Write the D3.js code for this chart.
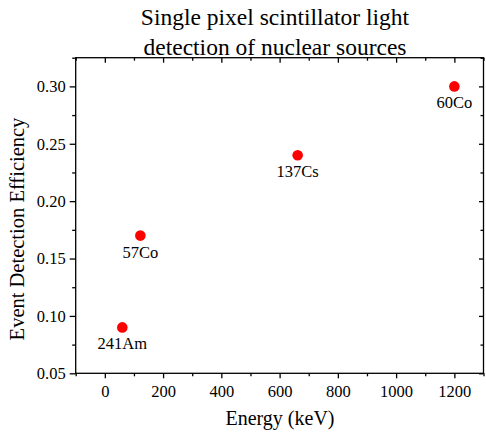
<!DOCTYPE html>
<html>
<head>
<meta charset="utf-8">
<script src="https://cdn.jsdelivr.net/npm/d3@7"></script>
<style>
  html, body { margin: 0; padding: 0; background: #fff; }
  svg, svg text { font-family: "Liberation Serif", "Times New Roman", serif; }
  svg { display: block; }
</style>
</head>
<body>
<svg id="chart" width="486" height="434"></svg>
<script>
// ---- data ----
const sources = ["241Am", "57Co", "137Cs", "60Co"];
const energies = [60, 122, 662, 1200];          // keV
const efficiencies = [0.09, 0.17, 0.24, 0.30];  // event detection efficiency
const xTickValues = [0, 200, 400, 600, 800, 1000, 1200];
const xMinorValues = [-100, 100, 300, 500, 700, 900, 1100, 1300];
const yTickValues = [0.05, 0.10, 0.15, 0.20, 0.25, 0.30];
const yMinorValues = [0.075, 0.125, 0.175, 0.225, 0.275, 0.325];
const titleLines = ["Single pixel scintillator light", "detection of nuclear sources"];
const xLabel = "Energy (keV)";
const yLabel = "Event Detection Efficiency";

// ---- layout ----
const W = 486, H = 434;
const m = { left: 75.7, right: 2.5, top: 57.7, bottom: 60.7 };
const FONT = '"Liberation Serif", "Times New Roman", serif';
const svg = d3.select("#chart");

const x = d3.scaleLinear().domain([-100, 1300]).range([m.left, W - m.right]);
const y = d3.scaleLinear().domain([0.05, 0.325]).range([H - m.bottom, m.top]);

const axisStroke = 1.3;
function styleAxis(g) {
  g.attr("font-family", FONT).attr("font-size", 16.5);
  g.select(".domain").remove();
  g.selectAll(".tick line").attr("stroke", "#000").attr("stroke-width", axisStroke);
  g.selectAll(".tick text").attr("fill", "#000").style("font-family", FONT).style("font-size", "16.5px");
}

// bottom axis: major + minor, outward
svg.append("g").attr("transform", `translate(0,${y.range()[0]})`)
  .call(d3.axisBottom(x).tickValues(xTickValues).tickFormat(d3.format("d")).tickSize(5).tickPadding(7))
  .call(styleAxis);
svg.append("g").attr("transform", `translate(0,${y.range()[0]})`)
  .call(d3.axisBottom(x).tickValues(xMinorValues).tickFormat("").tickSize(3))
  .call(styleAxis);
// top axis: inward
svg.append("g").attr("transform", `translate(0,${y.range()[1]})`)
  .call(d3.axisBottom(x).tickValues(xTickValues).tickFormat("").tickSize(5))
  .call(styleAxis);
svg.append("g").attr("transform", `translate(0,${y.range()[1]})`)
  .call(d3.axisBottom(x).tickValues(xMinorValues).tickFormat("").tickSize(3))
  .call(styleAxis);
// left axis: outward
svg.append("g").attr("transform", `translate(${x.range()[0]},0)`)
  .call(d3.axisLeft(y).tickValues(yTickValues).tickFormat(d3.format(".2f")).tickSize(6).tickPadding(4))
  .call(styleAxis);
svg.append("g").attr("transform", `translate(${x.range()[0]},0)`)
  .call(d3.axisLeft(y).tickValues(yMinorValues).tickFormat("").tickSize(3.5))
  .call(styleAxis);
// right axis: inward
svg.append("g").attr("transform", `translate(${x.range()[1]},0)`)
  .call(d3.axisLeft(y).tickValues(yTickValues).tickFormat("").tickSize(4.5))
  .call(styleAxis);
svg.append("g").attr("transform", `translate(${x.range()[1]},0)`)
  .call(d3.axisLeft(y).tickValues(yMinorValues).tickFormat("").tickSize(3))
  .call(styleAxis);

// frame
svg.append("rect")
  .attr("x", x.range()[0]).attr("y", y.range()[1])
  .attr("width", x.range()[1] - x.range()[0])
  .attr("height", y.range()[0] - y.range()[1])
  .attr("fill", "none").attr("stroke", "#000").attr("stroke-width", axisStroke);

// points
const pts = sources.map((s, i) => ({ s, e: energies[i], v: efficiencies[i] }));
svg.append("g").selectAll("circle").data(pts).join("circle")
  .attr("cx", d => x(d.e)).attr("cy", d => y(d.v)).attr("r", 5.3)
  .attr("fill", "#ff0000");
svg.append("g").selectAll("text").data(pts).join("text")
  .attr("x", d => x(d.e)).attr("y", d => y(d.v) + 22)
  .attr("text-anchor", "middle").attr("font-size", 16.5).attr("fill", "#000")
  .text(d => d.s);

// title
svg.append("g").selectAll("text").data(titleLines).join("text")
  .attr("x", 275).attr("y", (d, i) => 25 + i * 29.5)
  .attr("text-anchor", "middle").attr("font-size", 23.5).attr("fill", "#000")
  .text(d => d);

// axis labels
svg.append("text").attr("x", 280).attr("y", 425)
  .attr("text-anchor", "middle").attr("font-size", 20).attr("fill", "#000")
  .text(xLabel);
svg.append("text").attr("transform", `translate(24,${229}) rotate(-90)`)
  .attr("text-anchor", "middle").attr("font-size", 20.5).attr("fill", "#000")
  .text(yLabel);
</script>
</body>
</html>
